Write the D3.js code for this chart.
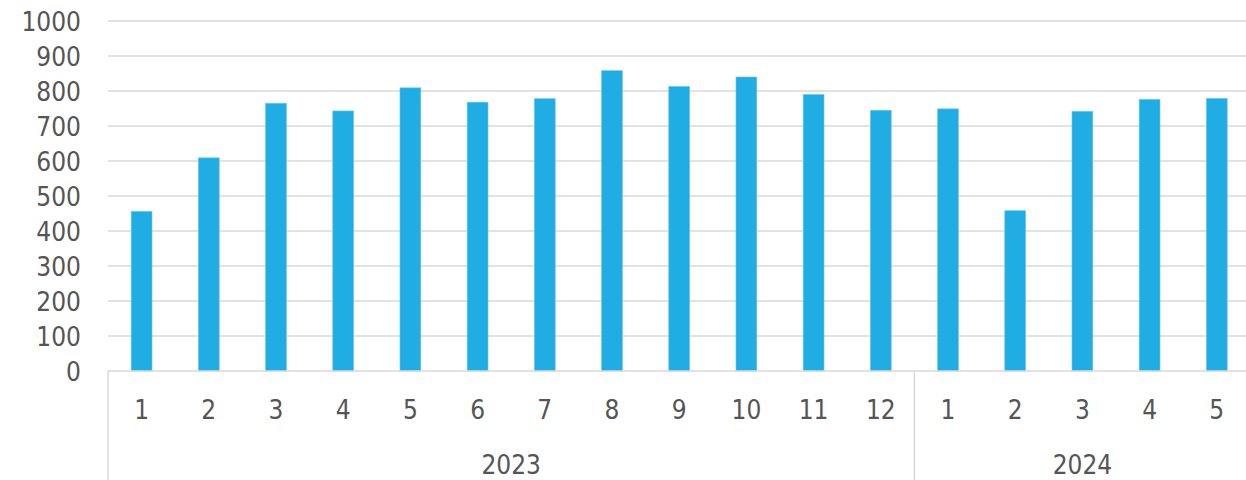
<!DOCTYPE html>
<html><head><meta charset="utf-8">
<script src="https://cdn.jsdelivr.net/npm/d3@7/dist/d3.min.js"></script>
<style>html,body{margin:0;padding:0;background:#fff;overflow:hidden}</style>
</head><body>
<svg id="c" width="1246" height="480"></svg>
<script>
const years = ["2023","2024"];
const months2023 = ["1","2","3","4","5","6","7","8","9","10","11","12"];
const months2024 = ["1","2","3","4","5"];
const values2023 = [456, 609, 765, 743, 809, 768, 778, 858, 813, 840, 790, 745];
const values2024 = [749, 458, 742, 776, 779];
const yTicks = [0,100,200,300,400,500,600,700,800,900,1000];

(function(){
const data = [
  ...months2023.map((m,i)=>({year:"2023", month:m, value:values2023[i]})),
  ...months2024.map((m,i)=>({year:"2024", month:m, value:values2024[i]}))
];
data.forEach(d=>d.key = d.year+"-"+d.month);

const svg = d3.select("#c");
const mLeft = 108, mRight = 1250.4, mTop = 21, mBottom = 371;
const font = "'DejaVu Sans Condensed','DejaVu Sans',sans-serif";
const textColor = "#555555";
const gridColor = "#d9d9d9";

const x = d3.scaleBand().domain(data.map(d=>d.key)).range([mLeft,mRight]).paddingInner(0.69).paddingOuter(0.345);
const y = d3.scaleLinear().domain([0,1000]).range([mBottom,mTop]);

svg.append("g").selectAll("line").data(yTicks.filter(t=>t>0)).join("line")
  .attr("x1",mLeft).attr("x2",1246)
  .attr("y1",d=>y(d)).attr("y2",d=>y(d))
  .attr("stroke",gridColor).attr("stroke-width",1.5);

const yAxis = d3.axisLeft(y).tickValues(yTicks).tickSize(0).tickPadding(0).tickFormat(d3.format("d"));
const ya = svg.append("g").attr("transform",`translate(81,0)`).call(yAxis);
ya.select(".domain").remove();
ya.selectAll("text").attr("font-family",font).attr("font-size",26).attr("fill",textColor).attr("dy","0.35em");

svg.append("g").selectAll("rect").data(data).join("rect")
  .attr("x",d=>x(d.key)).attr("width",x.bandwidth())
  .attr("y",d=>y(d.value)).attr("height",d=>y(0)-y(d.value))
  .attr("fill","#1fade3").attr("stroke","#6cc6ec").attr("stroke-width",0.6);

svg.append("line").attr("x1",mLeft).attr("x2",1246).attr("y1",mBottom).attr("y2",mBottom)
  .attr("stroke",gridColor).attr("stroke-width",1.5);

const xAxis = d3.axisBottom(x).tickSize(0).tickPadding(0).tickFormat(k=>k.split("-")[1]);
const xa = svg.append("g").attr("transform",`translate(0,${mBottom})`).call(xAxis);
xa.select(".domain").remove();
xa.selectAll("text").attr("font-family",font).attr("font-size",26).attr("fill",textColor)
  .attr("y",39).attr("dy","0.35em");

const yearStart = yr => x(yr+"-1") - x.step()*x.paddingInner()/2;
const starts = years.map(yr=>yearStart(yr));
svg.append("g").selectAll("line").data(starts).join("line")
  .attr("x1",d=>d).attr("x2",d=>d).attr("y1",mBottom).attr("y2",480)
  .attr("stroke",gridColor).attr("stroke-width",1.5);
const ends = [starts[1], mRight];
svg.append("g").selectAll("text").data(years).join("text")
  .attr("x",(d,i)=>(starts[i]+ends[i])/2).attr("y",465).attr("dy","0.35em")
  .attr("text-anchor","middle").attr("font-family",font).attr("font-size",26).attr("fill",textColor)
  .text(d=>d);
})();
</script>
</body></html>
